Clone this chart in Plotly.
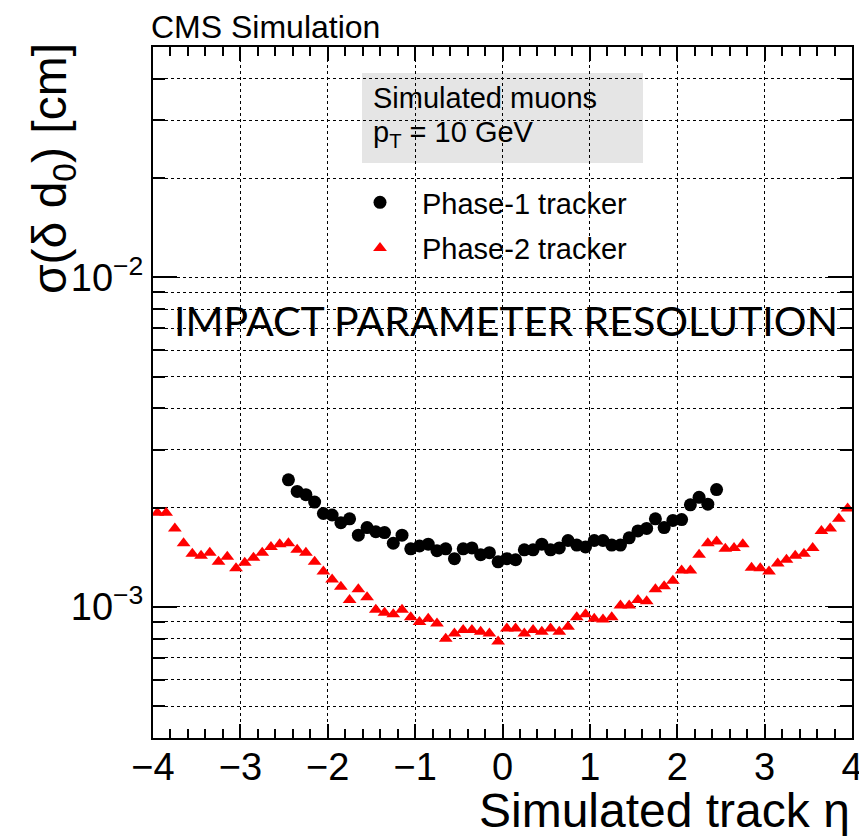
import plotly.graph_objects as go

# ---------------- data (sigma in cm) ----------------
eta_phase1 = [-2.45, -2.35, -2.25, -2.15, -2.05, -1.95, -1.85, -1.75, -1.65, -1.55,
              -1.45, -1.35, -1.25, -1.15, -1.05, -0.95, -0.85, -0.75, -0.65, -0.55,
              -0.45, -0.35, -0.25, -0.15, -0.05, 0.05, 0.15, 0.25, 0.35, 0.45,
              0.55, 0.65, 0.75, 0.85, 0.95, 1.05, 1.15, 1.25, 1.35, 1.45,
              1.55, 1.65, 1.75, 1.85, 1.95, 2.05, 2.15, 2.25, 2.35, 2.45]
sigma_phase1 = [2.43e-3, 2.24e-3, 2.19e-3, 2.08e-3, 1.92e-3, 1.90e-3, 1.80e-3, 1.85e-3, 1.65e-3, 1.74e-3,
                1.69e-3, 1.68e-3, 1.56e-3, 1.65e-3, 1.50e-3, 1.53e-3, 1.55e-3, 1.48e-3, 1.50e-3, 1.40e-3,
                1.50e-3, 1.51e-3, 1.44e-3, 1.46e-3, 1.37e-3, 1.40e-3, 1.39e-3, 1.49e-3, 1.49e-3, 1.55e-3,
                1.49e-3, 1.51e-3, 1.59e-3, 1.54e-3, 1.52e-3, 1.59e-3, 1.59e-3, 1.54e-3, 1.54e-3, 1.62e-3,
                1.70e-3, 1.73e-3, 1.85e-3, 1.74e-3, 1.83e-3, 1.84e-3, 2.04e-3, 2.15e-3, 2.05e-3, 2.27e-3]

eta_phase2 = [-3.95, -3.85, -3.75, -3.65, -3.55, -3.45, -3.35, -3.25, -3.15, -3.05,
              -2.95, -2.85, -2.75, -2.65, -2.55, -2.45, -2.35, -2.25, -2.15, -2.05,
              -1.95, -1.85, -1.75, -1.65, -1.55, -1.45, -1.35, -1.25, -1.15, -1.05,
              -0.95, -0.85, -0.75, -0.65, -0.55, -0.45, -0.35, -0.25, -0.15, -0.05,
              0.05, 0.15, 0.25, 0.35, 0.45, 0.55, 0.65, 0.75, 0.85, 0.95,
              1.05, 1.15, 1.25, 1.35, 1.45, 1.55, 1.65, 1.75, 1.85, 1.95,
              2.05, 2.15, 2.25, 2.35, 2.45, 2.55, 2.65, 2.75, 2.85, 2.95,
              3.05, 3.15, 3.25, 3.35, 3.45, 3.55, 3.65, 3.75, 3.85, 3.95]
sigma_phase2 = [1.93e-3, 1.93e-3, 1.73e-3, 1.56e-3, 1.45e-3, 1.43e-3, 1.46e-3, 1.37e-3, 1.42e-3, 1.31e-3,
                1.36e-3, 1.41e-3, 1.46e-3, 1.52e-3, 1.55e-3, 1.56e-3, 1.49e-3, 1.46e-3, 1.37e-3, 1.28e-3,
                1.21e-3, 1.15e-3, 1.05e-3, 1.13e-3, 1.07e-3, 0.98e-3, 0.96e-3, 0.95e-3, 0.98e-3, 0.93e-3,
                0.90e-3, 0.92e-3, 0.89e-3, 0.80e-3, 0.83e-3, 0.85e-3, 0.85e-3, 0.84e-3, 0.83e-3, 0.785e-3,
                0.86e-3, 0.86e-3, 0.83e-3, 0.85e-3, 0.84e-3, 0.86e-3, 0.84e-3, 0.87e-3, 0.93e-3, 0.95e-3,
                0.92e-3, 0.915e-3, 0.93e-3, 1.01e-3, 1.01e-3, 1.05e-3, 1.04e-3, 1.13e-3, 1.155e-3, 1.20e-3,
                1.29e-3, 1.29e-3, 1.44e-3, 1.56e-3, 1.58e-3, 1.50e-3, 1.51e-3, 1.55e-3, 1.315e-3, 1.31e-3,
                1.28e-3, 1.355e-3, 1.39e-3, 1.43e-3, 1.45e-3, 1.51e-3, 1.70e-3, 1.73e-3, 1.85e-3, 1.99e-3]

x_ticks = [-4, -3, -2, -1, 0, 1, 2, 3, 4]
x_ticklabels = ["\u22124", "\u22123", "\u22122", "\u22121", "0", "1", "2", "3", "4"]
y_major = [1e-3, 1e-2]
y_major_labels = ["10<sup>\u22123</sup>", "10<sup>\u22122</sup>"]
y_minor = [4e-4, 5e-4, 6e-4, 7e-4, 8e-4, 9e-4,
           2e-3, 3e-3, 4e-3, 5e-3, 6e-3, 7e-3, 8e-3, 9e-3,
           2e-2, 3e-2, 4e-2, 5e-2]

# ---------------- figure ----------------
# the page body has an 8px default margin, so the figure is made 8px smaller
# and all positions below are given in page pixels
OFF = 8
W, H = 867 - OFF, 836 - OFF
X0, X1, Y0, Y1 = 153, 852, 47, 738          # plot area in page pixels
L, R, T, B = X0 - OFF, OFF + W - X1, Y0 - OFF, OFF + H - Y1
PW, PH = X1 - X0, Y1 - Y0


def px(xp):
    return (xp - X0) / PW


def py(yp):
    return (Y1 - yp) / PH


FONT = "Liberation Sans, Arial, Helvetica, sans-serif"

fig = go.Figure()
fig.add_trace(go.Scatter(
    x=eta_phase1, y=sigma_phase1, mode="markers", name="Phase-1 tracker",
    legendgroup="p1",
    marker=dict(symbol="circle", size=13, color="black", line=dict(width=0)),
))
fig.add_trace(go.Scatter(
    x=eta_phase2, y=sigma_phase2, mode="markers", name="Phase-2 tracker",
    legendgroup="p2",
    marker=dict(symbol="triangle-up", size=12, color="#ff0000", line=dict(width=0)),
))

fig.update_layout(
    width=W, height=H,
    margin=dict(l=L, r=R, t=T, b=B, pad=0, autoexpand=False),
    paper_bgcolor="white", plot_bgcolor="white",
    font=dict(family=FONT, color="black"),
    showlegend=True,
    legend=dict(
        x=px(338), y=py(177), xanchor="left", yanchor="top",
        bgcolor="rgba(0,0,0,0)", borderwidth=0,
        font=dict(family=FONT, size=29, color="black"),
        itemwidth=74, tracegroupgap=5, traceorder="grouped",
    ),
)

fig.update_xaxes(
    range=[-4, 4],
    tickmode="array", tickvals=x_ticks, ticktext=x_ticklabels,
    ticks="inside", ticklen=14, tickwidth=1.5, tickcolor="black",
    ticklabelstandoff=-6,
    tickfont=dict(family=FONT, size=38, color="black"),
    showline=True, linecolor="black", linewidth=2, mirror="allticks",
    showgrid=True, gridcolor="black", gridwidth=1, griddash="dot",
    zeroline=False,
    minor=dict(dtick=0.2, ticks="inside", ticklen=9, tickwidth=1.5,
               tickcolor="black", showgrid=False),
)

fig.update_yaxes(
    type="log", range=[-3.39794, -1.30103],
    tickmode="array", tickvals=y_major, ticktext=y_major_labels,
    ticks="inside", ticklen=24, tickwidth=1.5, tickcolor="black",
    tickfont=dict(family=FONT, size=38, color="black"),
    showline=True, linecolor="black", linewidth=2, mirror="allticks",
    showgrid=True, gridcolor="black", gridwidth=1, griddash="dot",
    zeroline=False,
    minor=dict(tickvals=y_minor, ticks="inside", ticklen=12, tickwidth=1.5,
               tickcolor="black", showgrid=True, gridcolor="black",
               gridwidth=1, griddash="dot"),
)

# legend boxes (grey header, white entry area)
fig.add_shape(type="rect", xref="paper", yref="paper",
              x0=px(362), x1=px(643), y0=py(163), y1=py(73),
              fillcolor="#e5e5e5", line=dict(width=0), layer="between")
fig.add_shape(type="rect", xref="paper", yref="paper",
              x0=px(330), x1=px(670), y0=py(272), y1=py(175),
              fillcolor="white", line=dict(width=0), layer="between")

ann = dict(xref="paper", yref="paper", showarrow=False)
fig.add_annotation(text="CMS Simulation", x=px(149), y=py(27), xanchor="left",
                   yanchor="middle", font=dict(family=FONT, size=32), **ann)
fig.add_annotation(text="Simulated muons", x=px(371), y=py(98), xanchor="left",
                   yanchor="middle", font=dict(family=FONT, size=29), **ann)
fig.add_annotation(text="p<sub>T</sub> = 10 GeV", x=px(371), y=py(134), xanchor="left",
                   yanchor="middle", font=dict(family=FONT, size=29), **ann)
fig.add_annotation(text="IMPACT PARAMETER RESOLUTION", x=px(506), y=py(320),
                   xanchor="center", yanchor="middle",
                   font=dict(family="Lato, Carlito, sans-serif", size=41, color="black"), **ann)
fig.add_annotation(text="\u03c3(\u03b4 d<sub>0</sub>) [cm]", x=px(53), y=py(168),
                   xanchor="center", yanchor="middle", textangle=-90,
                   font=dict(family=FONT, size=48), **ann)
fig.add_annotation(text="Simulated track \u03b7", x=1.0, y=py(810), xanchor="right",
                   yanchor="middle", font=dict(family=FONT, size=48), **ann)

fig.write_html("out.html")
